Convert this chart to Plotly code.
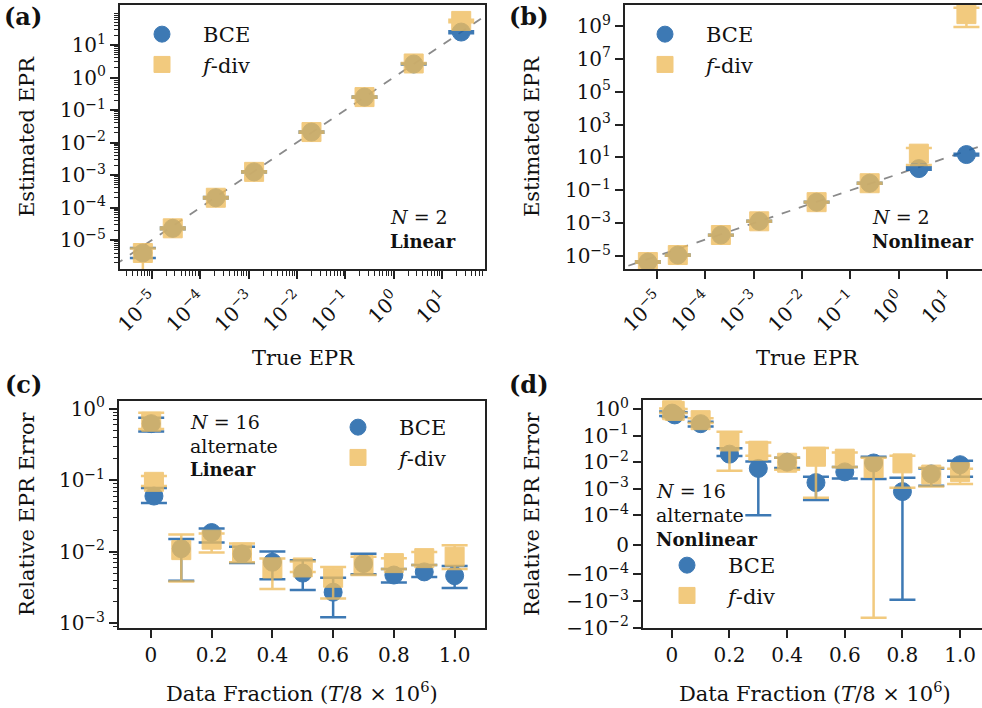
import math
import plotly.graph_objects as go

# ---------------- data ----------------
true_epr = [6.5e-6, 2.7e-5, 2.1e-4, 1.3e-3, 2.0e-2, 2.5e-1, 2.6, 25.0]

a_bce = [4.0e-6, 2.3e-5, 2.0e-4, 1.25e-3, 2.1e-2, 0.25, 2.6, 25.0]
a_bce_lo = [2.8e-6, 2.15e-5, 1.9e-4, 1.2e-3, 2.0e-2, 0.24, 2.5, 23.0]
a_bce_hi = [5.7e-6, 2.45e-5, 2.1e-4, 1.3e-3, 2.2e-2, 0.26, 2.7, 26.5]
a_fdiv = [4.0e-6, 2.3e-5, 2.0e-4, 1.25e-3, 2.1e-2, 0.25, 2.7, 55.0]
a_fdiv_lo = [1.0e-6, 2.15e-5, 1.9e-4, 1.2e-3, 2.0e-2, 0.24, 2.6, 50.0]
a_fdiv_hi = [5.5e-6, 2.45e-5, 2.1e-4, 1.3e-3, 2.2e-2, 0.26, 2.8, 60.0]

b_bce = [4.3e-6, 1.15e-5, 1.9e-4, 1.3e-3, 1.9e-2, 0.27, 2.1, 15.0]
b_bce_lo = [3.9e-6, 1.05e-5, 1.8e-4, 1.2e-3, 1.8e-2, 0.25, 1.8, 13.0]
b_bce_hi = [4.8e-6, 1.25e-5, 2.0e-4, 1.4e-3, 2.0e-2, 0.29, 2.5, 17.0]
b_fdiv = [4.3e-6, 1.15e-5, 1.9e-4, 1.3e-3, 1.9e-2, 0.27, 17.0, 5.3e9]
b_fdiv_lo = [3.9e-6, 1.05e-5, 1.8e-4, 1.2e-3, 1.8e-2, 0.25, 3.5, 8.7e8]
b_fdiv_hi = [4.8e-6, 1.25e-5, 2.0e-4, 1.4e-3, 2.0e-2, 0.29, 38.0, 1.3e10]

frac = [0.001, 0.01, 0.1, 0.2, 0.3, 0.4, 0.5, 0.6, 0.7, 0.8, 0.9, 1.0]

c_bce = [0.62, 0.060, 0.011, 0.0185, 0.0093, 0.0071, 0.0050, 0.0027, 0.0068, 0.0047, 0.0052, 0.0046]
c_bce_lo = [0.48, 0.048, 0.0039, 0.0134, 0.0069, 0.0041, 0.0029, 0.0012, 0.0048, 0.0037, 0.0044, 0.0031]
c_bce_hi = [0.75, 0.078, 0.015, 0.021, 0.0117, 0.010, 0.0076, 0.0043, 0.0093, 0.0057, 0.0065, 0.0063]
c_fdiv = [0.66, 0.095, 0.0105, 0.0147, 0.0097, 0.0058, 0.0060, 0.0043, 0.0065, 0.0069, 0.0081, 0.0085]
c_fdiv_lo = [0.52, 0.083, 0.0038, 0.0097, 0.0071, 0.0030, 0.0052, 0.0022, 0.0047, 0.0057, 0.0065, 0.0057]
c_fdiv_hi = [0.88, 0.115, 0.0174, 0.018, 0.013, 0.0080, 0.0073, 0.0061, 0.0085, 0.0081, 0.0099, 0.0123]

d_bce = [0.70, 0.60, 0.28, 0.020, 0.0058, 0.0100, 0.0017, 0.0043, 0.0093, 0.00078, 0.0036, 0.0080]
d_bce_lo = [0.55, 0.50, 0.22, 0.017, 1.0e-4, 0.0060, 3.8e-4, 0.0024, 0.0023, -9.1e-4, 0.0013, 0.0028]
d_bce_hi = [0.80, 0.75, 0.33, 0.033, 0.0105, 0.0145, 0.0028, 0.0066, 0.0160, 0.0026, 0.0058, 0.0112]
d_fdiv = [0.90, 0.85, 0.38, 0.060, 0.027, 0.0095, 0.0160, 0.0135, 0.0060, 0.0090, 0.0034, 0.0042]
d_fdiv_lo = [0.72, 0.70, 0.30, 0.0047, 0.0175, 0.0052, 4.6e-4, 0.0066, -0.0043, 0.0011, 0.0012, 0.0015]
d_fdiv_hi = [1.05, 1.00, 0.45, 0.14, 0.055, 0.0145, 0.034, 0.0230, 0.0145, 0.0175, 0.0062, 0.0056]

diag = [1e-7, 1e3]

log_ticks_a = [1e-5, 1e-4, 1e-3, 1e-2, 1e-1, 1e0, 1e1]
log_ticks_b = [1e-5, 1e-3, 1e-1, 1e1, 1e3, 1e5, 1e7, 1e9]
log_ticks_c = [1e-3, 1e-2, 1e-1, 1e0]
sym_ticks_d = [1e0, 1e-1, 1e-2, 1e-3, 1e-4, 0.0, -1e-4, -1e-3, -1e-2]
frac_ticks = [0, 0.2, 0.4, 0.6, 0.8, 1.0]
frac_labels = ["0", "0.2", "0.4", "0.6", "0.8", "1.0"]
minor_mult = [2, 3, 4, 5, 6, 7, 8, 9]

# ---------------- style ----------------
BLUE = "#1c62a8"
ORANGE = "#efbd5f"
FONT = "DejaVu Serif"
AX = "#222222"
W, H = 982, 708

LT = 1e-4
ADJ = 1.0 / (1 - 1 / 10.0)


def symlog(v):
    if abs(v) <= LT:
        return v / LT * ADJ
    s = 1 if v > 0 else -1
    return s * (ADJ + math.log10(abs(v) / LT))


def pow_label(v):
    e = int(round(math.log10(abs(v))))
    es = str(e).replace("-", "\u2212")
    sign = "\u2212" if v < 0 else ""
    return f"{sign}10<sup>{es}</sup>"


def minor_vals(e0, e1):
    return [m * 10.0 ** e for e in range(e0, e1 + 1) for m in minor_mult]


def px_x(p):
    return p / W


def px_y(p):
    return 1 - p / H


fig = go.Figure()


def add_pair(xs, b, blo, bhi, f, flo, fhi, xa, ya, leg, tf=None):
    tf = tf or (lambda v: v)
    for name, vals, lo, hi, col, sym, size, op in [
        ("BCE", b, blo, bhi, BLUE, "circle", 18, 0.85),
        ("<i>f</i>-div", f, flo, fhi, ORANGE, "square", 19, 0.8),
    ]:
        yv = [tf(v) for v in vals]
        up = [tf(h) - tf(v) for v, h in zip(vals, hi)]
        dn = [tf(v) - tf(l) for v, l in zip(vals, lo)]
        fig.add_trace(go.Scatter(
            x=xs, y=yv, mode="markers", name=name, xaxis=xa, yaxis=ya,
            legend=leg, opacity=op,
            marker=dict(symbol=sym, size=size, color=col, line=dict(width=1, color=col)),
            error_y=dict(type="data", symmetric=False, array=up, arrayminus=dn,
                         color=col, thickness=2.5, width=13),
        ))


# diagonal reference lines
for xa, ya in [("x", "y"), ("x2", "y2")]:
    fig.add_trace(go.Scatter(x=diag, y=diag, mode="lines", xaxis=xa, yaxis=ya,
                             line=dict(color="#8a8a8a", width=1.8, dash="dash"),
                             showlegend=False, hoverinfo="skip"))

add_pair(true_epr, a_bce, a_bce_lo, a_bce_hi, a_fdiv, a_fdiv_lo, a_fdiv_hi, "x", "y", "legend")
add_pair(true_epr, b_bce, b_bce_lo, b_bce_hi, b_fdiv, b_fdiv_lo, b_fdiv_hi, "x2", "y2", "legend2")
add_pair(frac, c_bce, c_bce_lo, c_bce_hi, c_fdiv, c_fdiv_lo, c_fdiv_hi, "x3", "y3", "legend3")
add_pair(frac, d_bce, d_bce_lo, d_bce_hi, d_fdiv, d_fdiv_lo, d_fdiv_hi, "x4", "y4", "legend4", tf=symlog)

tickfont = dict(family=FONT, size=20, color="#111")
common = dict(showline=True, linecolor=AX, linewidth=2, ticks="outside", ticklen=8,
              tickwidth=1.6, tickcolor=AX, showgrid=False, zeroline=False,
              tickfont=tickfont, automargin=False)


def minor(vals):
    return dict(ticks="outside", ticklen=4.5, tickwidth=1.2, tickcolor=AX,
                showgrid=False, tickvals=vals)


layout = dict(
    width=W, height=H, autosize=False, margin=dict(l=0, r=0, t=0, b=0, autoexpand=False),
    paper_bgcolor="white", plot_bgcolor="white",
    font=dict(family=FONT, size=21, color="#111"),
    # (a)
    xaxis=dict(common, type="log", domain=[px_x(120), px_x(485)], anchor="y",
               range=[-5.66, 1.89], mirror=True, tickvals=log_ticks_a,
               ticktext=[pow_label(v) for v in log_ticks_a], tickangle=-45,
               minor=minor(minor_vals(-6, 1))),
    yaxis=dict(common, type="log", domain=[px_y(269), px_y(5)], anchor="x",
               range=[-5.89, 2.23], mirror=True, tickvals=log_ticks_a,
               ticktext=[pow_label(v) for v in log_ticks_a],
               minor=minor(minor_vals(-6, 2))),
    # (b)
    xaxis2=dict(common, type="log", domain=[px_x(625), 1.0], anchor="y2",
                range=[-5.66, 1.72], mirror=True, tickvals=log_ticks_a,
                ticktext=[pow_label(v) for v in log_ticks_a], tickangle=-45),
    yaxis2=dict(common, type="log", domain=[px_y(269), px_y(5)], anchor="x2",
                range=[-5.79, 10.28], tickvals=log_ticks_b,
                ticktext=[pow_label(v) for v in log_ticks_b]),
    # (c)
    xaxis3=dict(common, domain=[px_x(119), px_x(485)], anchor="y3",
                range=[-0.105, 1.10], mirror=True, tickvals=frac_ticks, ticktext=frac_labels),
    yaxis3=dict(common, type="log", domain=[px_y(628), px_y(401)], anchor="x3",
                range=[-3.07, 0.11], mirror=True, tickvals=log_ticks_c,
                ticktext=[pow_label(v) for v in log_ticks_c],
                minor=minor(minor_vals(-4, 0))),
    # (d)
    xaxis4=dict(common, domain=[px_x(643), 1.0], anchor="y4",
                range=[-0.1, 1.076], mirror=True, tickvals=frac_ticks, ticktext=frac_labels),
    yaxis4=dict(common, domain=[px_y(628), px_y(400)], anchor="x4",
                range=[-3.13, 5.45], tickvals=[symlog(v) for v in sym_ticks_d],
                ticktext=["0" if v == 0 else pow_label(v) for v in sym_ticks_d]),
    showlegend=True,
)

legfont = dict(family=FONT, size=21, color="#111")


def leg(xp, yp):
    return dict(x=px_x(xp), y=px_y(yp), xanchor="left", yanchor="top",
                bgcolor="rgba(0,0,0,0)", font=legfont, itemwidth=72,
                tracegroupgap=0)


layout["legend"] = leg(121, 14)
layout["legend2"] = leg(624, 14)
layout["legend3"] = leg(317, 407)
layout["legend4"] = leg(646, 545)

fig.update_layout(**layout)

ann = []


def txt(x, y, s, size=21, xanchor="left", angle=0):
    ann.append(dict(x=px_x(x), y=px_y(y), xref="paper", yref="paper", text=s,
                    showarrow=False, xanchor=xanchor, yanchor="middle",
                    textangle=angle, font=dict(family=FONT, size=size, color="#111")))


# panel labels
txt(23, 16, "<b>(a)</b>", 24, "center")
txt(529, 16, "<b>(b)</b>", 24, "center")
txt(23, 385, "<b>(c)</b>", 24, "center")
txt(529, 385, "<b>(d)</b>", 24, "center")

# axis titles
txt(27, 137, "Estimated EPR", 21, "center", -90)
txt(532, 137, "Estimated EPR", 21, "center", -90)
txt(303, 358, "True EPR", 21, "center")
txt(807, 358, "True EPR", 21, "center")
txt(27, 514, "Relative EPR Error", 21, "center", -90)
txt(532, 514, "Relative EPR Error", 21, "center", -90)
txt(302, 692, "Data Fraction (<i>T</i>/8 × 10<sup>6</sup>)", 21, "center")
txt(815, 692, "Data Fraction (<i>T</i>/8 × 10<sup>6</sup>)", 21, "center")

# in-panel notes
NS = 19
BS = 18
txt(388, 217, "<i>N</i> = 2", NS)
txt(388, 241, "<b>Linear</b>", BS)
txt(870, 217, "<i>N</i> = 2", NS)
txt(870, 241, "<b>Nonlinear</b>", BS)
txt(188, 422, "<i>N</i> = 16", NS)
txt(188, 446, "alternate", NS)
txt(188, 469, "<b>Linear</b>", BS)
txt(654, 491, "<i>N</i> = 16", NS)
txt(654, 515, "alternate", NS)
txt(654, 539, "<b>Nonlinear</b>", BS)

fig.update_layout(annotations=ann)
fig.write_html("out.html")
